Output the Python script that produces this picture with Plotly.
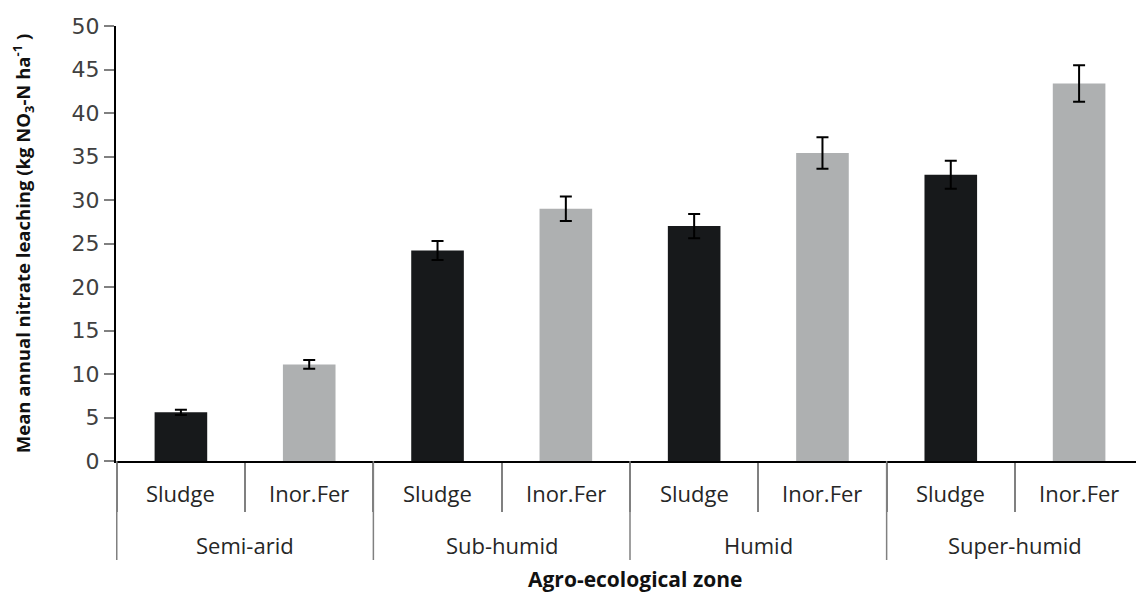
import plotly.graph_objects as go

zones = ["Semi-arid", "Sub-humid", "Humid", "Super-humid"]
treatments = ["Sludge", "Inor.Fer"]
sludge_vals = [5.6, 24.2, 27.0, 32.9]
sludge_err = [0.3, 1.1, 1.4, 1.6]
inor_vals = [11.1, 29.0, 35.4, 43.4]
inor_err = [0.5, 1.4, 1.8, 2.1]
y_ticks = [0, 5, 10, 15, 20, 25, 30, 35, 40, 45, 50]

cats, inner, vals, errs, colors = [], [], [], [], []
for i, z in enumerate(zones):
    for t, v, e, c in ((treatments[0], sludge_vals[i], sludge_err[i], "#17191b"),
                       (treatments[1], inor_vals[i], inor_err[i], "#aeb0b1")):
        cats.append(z + " | " + t)
        inner.append(t)
        vals.append(v)
        errs.append(e)
        colors.append(c)

fig = go.Figure(go.Bar(
    x=cats, y=vals,
    marker=dict(color=colors, line=dict(width=0)),
    error_y=dict(type="data", array=errs, visible=True, color="black", thickness=2, width=6),
    width=0.41,
))

label_font = "'Open Sans', Lato, sans-serif"
plot_h = 435.0  # plot area height in px, used to convert px offsets to paper units

# inner (treatment) labels
for c, t in zip(cats, inner):
    fig.add_annotation(x=c, xref="x", y=-32 / plot_h, yref="paper", text=t, showarrow=False,
                       xanchor="center", yanchor="middle",
                       font=dict(family=label_font, size=22, color="#262626"))
# outer (zone) labels and dividers
for i, z in enumerate(zones):
    fig.add_annotation(x=2 * i + 0.5, xref="x", y=-84 / plot_h, yref="paper", text=z, showarrow=False,
                       xanchor="center", yanchor="middle",
                       font=dict(family=label_font, size=22, color="#262626"))
for i in range(len(zones) + 1):
    fig.add_shape(type="line", xref="x", yref="paper", x0=2 * i - 0.5, x1=2 * i - 0.5,
                  y0=0, y1=-99 / plot_h, line=dict(color="#808080", width=1.5))

fig.add_annotation(x=0.505, xref="paper", y=-118 / plot_h, yref="paper",
                   text="<b>Agro-ecological zone</b>", showarrow=False,
                   xanchor="center", yanchor="middle",
                   font=dict(family=label_font, size=21, color="#111"))

fig.update_layout(
    width=1144, height=592,
    margin=dict(l=108, r=8, t=18, b=139),
    paper_bgcolor="white", plot_bgcolor="white",
    showlegend=False,
    font=dict(family=label_font, color="#222"),
    xaxis=dict(
        type="category", automargin=False,
        showline=True, linecolor="black", linewidth=2,
        ticks="outside", tickson="boundaries", ticklen=49, tickcolor="#808080", tickwidth=1.5,
        showticklabels=False, showgrid=False,
    ),
    yaxis=dict(
        range=[0, 50], tickvals=y_ticks, automargin=False,
        showline=True, linecolor="black", linewidth=2,
        ticks="outside", ticklen=10, tickcolor="#808080", tickwidth=1.5,
        showgrid=False, zeroline=False,
        tickfont=dict(family="'DejaVu Sans', sans-serif", size=22, color="#404040"),
        title=dict(text="<b>Mean annual nitrate leaching (kg NO<sub>3</sub>-N ha<sup>-1</sup> )</b>",
                   font=dict(family=label_font, size=18.5, color="#111"), standoff=38),
    ),
)

fig.write_html("out.html")
